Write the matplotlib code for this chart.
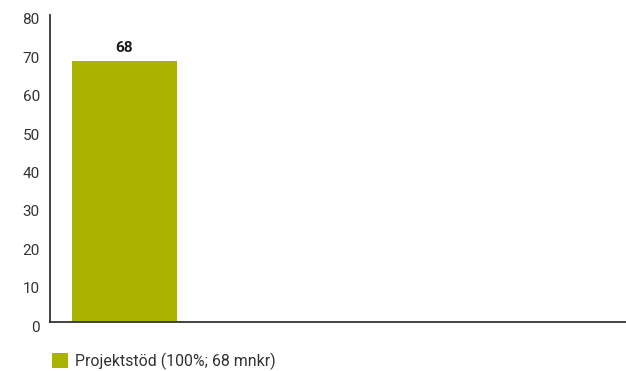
import matplotlib
matplotlib.use("Agg")
import matplotlib.pyplot as plt
import matplotlib.transforms as mtransforms
from matplotlib.patches import Patch

# data
categories = ["Projektstöd"]
values = [68]
legend_labels = ["Projektstöd (100%; 68 mnkr)"]
yticks = [0, 10, 20, 30, 40, 50, 60, 70, 80]

BAR_COLOR = "#a9b300"
TEXT_COLOR = "#333333"

plt.rcParams["font.family"] = ["Roboto", "DejaVu Sans"]

fig = plt.figure(figsize=(6.26, 3.71), dpi=100)
ax = fig.add_axes([49.5 / 626, 49 / 371, 576.5 / 626, 307 / 371])

xs = list(range(len(categories)))
bars = ax.bar(xs, values, width=1.0, color=BAR_COLOR, zorder=2)
for x, v in zip(xs, values):
  ax.text(x, v + 1.6, str(v), ha="center", va="bottom", fontsize=11,
          fontweight="bold", color="#1a1a1a")

ax.set_xlim(-0.714, 4.776)
ax.set_ylim(0, 80)
ax.set_yticks(yticks)
ax.set_yticklabels([str(t) for t in yticks], fontsize=11, color=TEXT_COLOR)
ax.tick_params(axis="y", length=0, pad=7)
ax.set_xticks([])

# labels sit a bit below their gridline in the original
offset = mtransforms.ScaledTranslation(0, -4 / 100, fig.dpi_scale_trans)
for lbl in ax.get_yticklabels():
  lbl.set_transform(lbl.get_transform() + offset)

for s in ("top", "right"):
  ax.spines[s].set_visible(False)
for s in ("left", "bottom"):
  ax.spines[s].set_color("#333333")
  ax.spines[s].set_linewidth(1.3)

handles = [Patch(facecolor=BAR_COLOR, edgecolor="none")]
fig.legend(handles, legend_labels, loc="center left", bbox_to_anchor=(52 / 626, 10 / 371),
           frameon=False, fontsize=11.4, handlelength=1.0, handleheight=1.1,
           handletextpad=0.45, borderpad=0, borderaxespad=0, labelcolor=TEXT_COLOR)

fig.savefig("out.png", dpi=100)
